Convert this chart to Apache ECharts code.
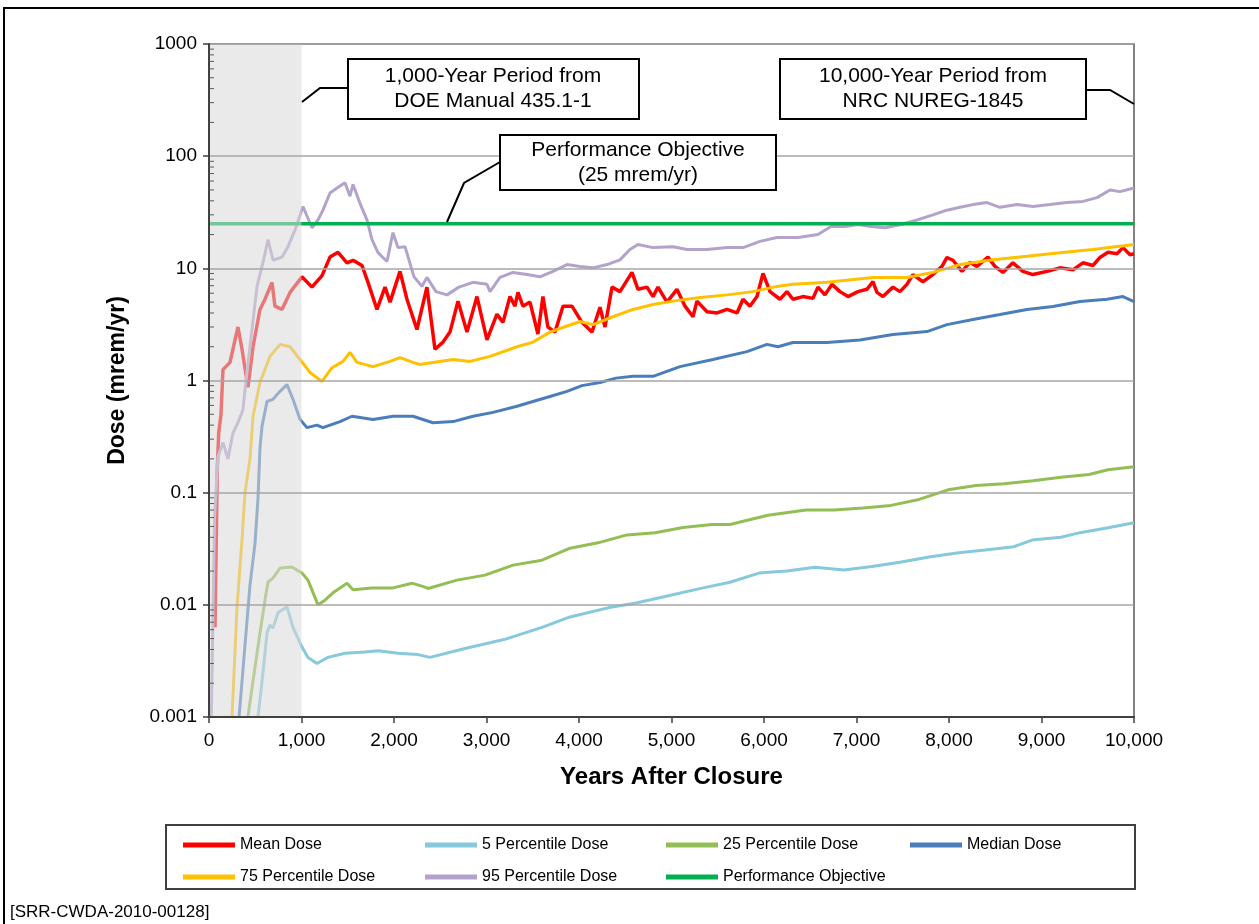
<!DOCTYPE html>
<html>
<head>
<meta charset="utf-8">
<script src="https://cdn.jsdelivr.net/npm/echarts@6/dist/echarts.min.js"></script>
<style>
  html, body { margin: 0; padding: 0; background: #fff; }
  #chart { width: 1259px; height: 924px; }
</style>
</head>
<body>
<div id="chart"></div>
<script>
// [year, dose mrem/yr]
const meanDose = [[65,0.0063],[90,0.17],[105,0.34],[130,0.5],[151,1.25],[227,1.45],[313,3.0],[357,1.9],[421,0.87],[476,2.0],[551,4.3],[605,5.3],[681,7.5],[713,4.6],[789,4.3],[876,6.1],[1005,8.4],[1113,6.8],[1222,8.6],[1308,12.6],[1395,13.9],[1492,11.2],[1557,11.8],[1654,10.6],[1719,7.5],[1816,4.3],[1903,6.8],[1957,5.0],[2065,9.4],[2140,5.3],[2248,2.85],[2356,6.8],[2443,1.9],[2530,2.2],[2605,2.7],[2692,5.1],[2789,2.7],[2897,5.6],[3005,2.3],[3113,3.9],[3178,3.3],[3254,5.6],[3308,4.6],[3340,6.1],[3394,4.6],[3470,5.0],[3556,2.6],[3610,5.6],[3664,3.0],[3740,2.7],[3827,4.6],[3924,4.6],[4032,3.3],[4140,2.7],[4227,4.5],[4281,3.0],[4357,6.8],[4443,6.2],[4573,9.2],[4638,6.5],[4735,6.8],[4800,5.6],[4854,6.8],[4951,5.0],[5059,6.5],[5146,4.6],[5232,3.7],[5275,5.1],[5384,4.1],[5492,4.0],[5600,4.3],[5708,4.0],[5773,5.3],[5848,4.6],[5924,5.6],[5989,9.0],[6065,6.2],[6173,5.3],[6248,6.2],[6313,5.3],[6421,5.6],[6529,5.4],[6583,6.8],[6659,5.8],[6735,7.2],[6821,6.2],[6908,5.6],[7016,6.2],[7113,6.5],[7178,7.6],[7221,6.1],[7286,5.6],[7394,6.8],[7470,6.2],[7545,7.2],[7610,8.8],[7718,7.6],[7826,8.8],[7924,10.4],[7978,12.5],[8043,11.8],[8140,9.4],[8227,11.3],[8302,10.4],[8421,12.6],[8497,10.4],[8583,9.2],[8691,11.2],[8799,9.4],[8907,8.8],[9059,9.4],[9200,10.1],[9340,9.7],[9448,11.2],[9556,10.6],[9632,12.5],[9719,13.9],[9816,13.5],[9881,15.3],[9957,13.2],[10000,13.5]];

const p5Dose = [[530,0.001],[584,0.0025],[627,0.0056],[659,0.0066],[692,0.0062],[746,0.0085],[843,0.0096],[908,0.0063],[1005,0.0042],[1070,0.0034],[1167,0.003],[1286,0.0034],[1470,0.0037],[1686,0.0038],[1827,0.0039],[2043,0.0037],[2259,0.0036],[2389,0.0034],[2778,0.0041],[3189,0.0049],[3600,0.0063],[3903,0.0078],[4313,0.0094],[4616,0.0104],[4919,0.0118],[5329,0.0141],[5632,0.0159],[5946,0.0192],[6248,0.02],[6551,0.0216],[6865,0.0204],[7167,0.022],[7470,0.024],[7784,0.0267],[8086,0.029],[8389,0.0308],[8702,0.033],[8897,0.0378],[9210,0.04],[9416,0.044],[9719,0.0487],[10000,0.054]];

const p25Dose = [[421,0.001],[476,0.0021],[551,0.0056],[605,0.011],[638,0.016],[692,0.0173],[768,0.0213],[897,0.0217],[1005,0.0192],[1070,0.0166],[1178,0.01],[1254,0.011],[1340,0.0128],[1492,0.0156],[1557,0.0136],[1762,0.0141],[1978,0.0141],[2194,0.0156],[2335,0.0144],[2368,0.014],[2681,0.0166],[2984,0.0184],[3287,0.0226],[3600,0.025],[3903,0.032],[4205,0.0357],[4519,0.042],[4822,0.044],[5124,0.049],[5438,0.052],[5632,0.052],[6043,0.063],[6454,0.07],[6757,0.07],[7070,0.073],[7373,0.077],[7676,0.087],[7989,0.106],[8292,0.116],[8594,0.12],[8908,0.128],[9211,0.137],[9514,0.145],[9719,0.16],[10000,0.17]];

const medianDose = [[325,0.001],[443,0.015],[497,0.035],[530,0.09],[551,0.25],[573,0.39],[627,0.65],[692,0.68],[768,0.8],[843,0.92],[908,0.68],[984,0.45],[1059,0.38],[1167,0.4],[1232,0.38],[1416,0.43],[1546,0.48],[1773,0.45],[1989,0.48],[2205,0.48],[2421,0.42],[2638,0.43],[2854,0.48],[3070,0.52],[3330,0.59],[3502,0.65],[3686,0.72],[3870,0.8],[4032,0.9],[4227,0.96],[4400,1.05],[4584,1.09],[4800,1.09],[5092,1.33],[5448,1.54],[5816,1.81],[6032,2.1],[6151,2.0],[6313,2.18],[6681,2.18],[7037,2.3],[7394,2.57],[7762,2.73],[7978,3.15],[8259,3.5],[8551,3.87],[8843,4.3],[9124,4.56],[9416,5.06],[9708,5.3],[9881,5.6],[10000,5.06]];

const p75Dose = [[249,0.001],[303,0.0096],[357,0.038],[389,0.1],[443,0.2],[476,0.48],[551,0.96],[659,1.64],[768,2.1],[876,2.0],[984,1.54],[1092,1.18],[1222,0.98],[1330,1.3],[1449,1.48],[1524,1.78],[1600,1.45],[1773,1.33],[1957,1.48],[2065,1.6],[2205,1.45],[2281,1.39],[2421,1.45],[2638,1.54],[2821,1.48],[3038,1.64],[3330,2.0],[3502,2.2],[3686,2.7],[3762,2.85],[4011,3.36],[4151,3.15],[4367,3.7],[4584,4.3],[4800,4.76],[5016,5.1],[5308,5.5],[5600,5.8],[5881,6.2],[6140,6.9],[6313,7.2],[6681,7.5],[7178,8.3],[7546,8.3],[7826,9.2],[8119,10.8],[8475,11.9],[8843,12.8],[9200,13.8],[9556,14.7],[10000,16.3]];

const p95Dose = [[25,0.001],[60,0.06],[97,0.21],[151,0.28],[205,0.2],[259,0.34],[313,0.42],[367,0.55],[400,1.0],[465,2.85],[519,6.9],[584,11.3],[638,18],[692,11.8],[789,12.6],[854,15.6],[930,22],[1016,35.6],[1113,23],[1178,27],[1232,33],[1308,47],[1384,52],[1470,58],[1524,44],[1557,56],[1632,38],[1708,27],[1762,18],[1827,13.8],[1924,11.5],[1989,20.8],[2043,15.3],[2119,15.6],[2216,8.4],[2302,6.9],[2356,8.3],[2454,6.2],[2573,5.8],[2702,6.8],[2854,7.5],[3005,7.2],[3038,6.2],[3146,8.3],[3286,9.2],[3438,8.8],[3578,8.4],[3719,9.4],[3870,10.8],[4011,10.4],[4151,10.1],[4303,10.8],[4443,11.9],[4551,14.7],[4638,16.3],[4800,15.3],[5016,15.6],[5167,14.7],[5384,14.7],[5600,15.3],[5773,15.3],[5957,17.4],[6140,18.8],[6367,18.8],[6583,20],[6724,23.6],[6875,23.6],[7016,24.6],[7156,23.6],[7308,23],[7481,24.6],[7654,27],[7826,30],[7978,33],[8119,35],[8259,37],[8410,38.6],[8551,35],[8735,37],[8907,35.6],[9091,37],[9275,38.6],[9448,39.5],[9600,42.7],[9740,50],[9848,48.3],[10000,52]];

const objective = [[0,25],[10000,25]];

const shadedPeriod = [0, 1000];
const minorMultipliers = [2,3,4,5,6,7,8,9];
const decades = [0.001,0.01,0.1,1,10,100];

var chart = echarts.init(document.getElementById('chart'));
var FONT = '"Liberation Sans", Arial, sans-serif';

// log-spaced minor ticks on the dose axis
var minorTicks = [];
decades.forEach(function (d) {
  minorMultipliers.forEach(function (m) { minorTicks.push([0, d * m]); });
});

function line(name, data, color, width) {
  return {
    name: name, type: 'line', data: data, showSymbol: false, symbol: 'none',
    lineStyle: { color: color, width: width || 3 }, itemStyle: { color: color },
    z: 2, silent: true
  };
}

var legendBase = {
  orient: 'vertical', top: 832, itemGap: 16, icon: 'rect',
  itemWidth: 52, itemHeight: 5,
  textStyle: { fontFamily: FONT, fontSize: 16, color: '#000' }
};

chart.setOption({
  animation: false,
  grid: { left: 209, right: 125, top: 44, bottom: 207, show: true, borderColor: '#595959', borderWidth: 1.5 },
  legend: [
    Object.assign({ left: 178, data: ['Mean Dose', '75 Percentile Dose'] }, legendBase),
    Object.assign({ left: 420, data: ['5 Percentile Dose', '95 Percentile Dose'] }, legendBase),
    Object.assign({ left: 661, data: ['25 Percentile Dose', 'Performance Objective'] }, legendBase),
    Object.assign({ left: 905, data: ['Median Dose'] }, legendBase)
  ],
  xAxis: {
    type: 'value', min: 0, max: 10000, interval: 1000,
    name: 'Years After Closure', nameLocation: 'middle', nameGap: 48,
    nameTextStyle: { fontFamily: FONT, fontSize: 24, fontWeight: 'bold', color: '#000' },
    axisLine: { lineStyle: { color: '#404040', width: 2 } },
    axisTick: { show: true, length: 6, lineStyle: { color: '#404040', width: 1.5 } },
    axisLabel: { margin: 14, fontFamily: FONT, fontSize: 19, color: '#000',
      formatter: function (v) { return v.toLocaleString('en-US'); } },
    splitLine: { show: false },
    z: 20
  },
  yAxis: {
    type: 'log', logBase: 10, min: 0.001, max: 1000, splitNumber: 6,
    name: 'Dose (mrem/yr)', nameLocation: 'middle', nameGap: 80,
    nameTextStyle: { fontFamily: FONT, fontSize: 23, fontWeight: 'bold', color: '#000' },
    axisLine: { show: true, lineStyle: { color: '#404040', width: 2 } },
    axisTick: { show: true, length: 6, lineStyle: { color: '#404040', width: 1.5 } },
    axisLabel: { margin: 12, fontFamily: FONT, fontSize: 19, color: '#000',
      formatter: function (v) { return String(Number(v.toPrecision(1))); } },
    splitLine: { show: true, lineStyle: { color: '#A6A6A6', width: 1.5 } },
    z: 20
  },
  series: [
    line('Mean Dose', meanDose, '#FF0000', 3.5),
    line('5 Percentile Dose', p5Dose, '#86C8DC'),
    line('25 Percentile Dose', p25Dose, '#93BE53'),
    line('Median Dose', medianDose, '#4A7EBB'),
    line('75 Percentile Dose', p75Dose, '#FFC000'),
    line('95 Percentile Dose', p95Dose, '#B3A3CB'),
    line('Performance Objective', objective, '#00B050', 3.5),
    {
      // grey 1,000-year band, drawn over the curves so they show faded
      name: 'shade', type: 'line', data: [], z: 10, silent: true,
      markArea: {
        silent: true, z: 10,
        itemStyle: { color: '#D9D9D9', opacity: 0.55 },
        data: [[{ xAxis: shadedPeriod[0] }, { xAxis: shadedPeriod[1] }]]
      }
    },
    {
      name: 'minorTicks', type: 'custom', data: minorTicks, z: 21, silent: true,
      renderItem: function (params, api) {
        var p = api.coord([api.value(0), api.value(1)]);
        return { type: 'line', shape: { x1: p[0], y1: p[1], x2: p[0] + 5, y2: p[1] },
          style: { stroke: '#595959', lineWidth: 1 } };
      }
    }
  ],
  graphic: [
    { type: 'polyline', z: 100, shape: { points: [[4, 924], [4, 8], [1259, 8]] }, style: { stroke: '#000', lineWidth: 2, fill: null } },
    { type: 'rect', z: 100, shape: { x: 166, y: 825, width: 969, height: 64 }, style: { stroke: '#404040', lineWidth: 2, fill: null } },
    // annotation leaders
    { type: 'polyline', z: 100, shape: { points: [[348, 88], [320, 88], [302, 102]] }, style: { stroke: '#000', lineWidth: 2, fill: null } },
    { type: 'polyline', z: 100, shape: { points: [[1086, 90], [1110, 90], [1134, 104]] }, style: { stroke: '#000', lineWidth: 2, fill: null } },
    { type: 'polyline', z: 100, shape: { points: [[500, 162], [464, 183], [447, 222]] }, style: { stroke: '#000', lineWidth: 2, fill: null } },
    // annotation boxes
    { type: 'rect', z: 100, shape: { x: 348, y: 59, width: 291, height: 60 }, style: { stroke: '#000', lineWidth: 2, fill: '#fff' } },
    { type: 'text', z: 101, style: { x: 493, y: 89, text: '1,000-Year Period from\nDOE Manual 435.1-1', align: 'center', verticalAlign: 'middle', lineHeight: 25, font: '21px ' + FONT, fill: '#000' } },
    { type: 'rect', z: 100, shape: { x: 780, y: 59, width: 306, height: 60 }, style: { stroke: '#000', lineWidth: 2, fill: '#fff' } },
    { type: 'text', z: 101, style: { x: 933, y: 89, text: '10,000-Year Period from\nNRC NUREG-1845', align: 'center', verticalAlign: 'middle', lineHeight: 25, font: '21px ' + FONT, fill: '#000' } },
    { type: 'rect', z: 100, shape: { x: 500, y: 135, width: 276, height: 55 }, style: { stroke: '#000', lineWidth: 2, fill: '#fff' } },
    { type: 'text', z: 101, style: { x: 638, y: 163, text: 'Performance Objective\n(25 mrem/yr)', align: 'center', verticalAlign: 'middle', lineHeight: 25, font: '21px ' + FONT, fill: '#000' } },
    { type: 'text', z: 101, style: { x: 10, y: 912, text: '[SRR-CWDA-2010-00128]', align: 'left', verticalAlign: 'middle', font: '17px ' + FONT, fill: '#000' } }
  ]
});
</script>
</body>
</html>
